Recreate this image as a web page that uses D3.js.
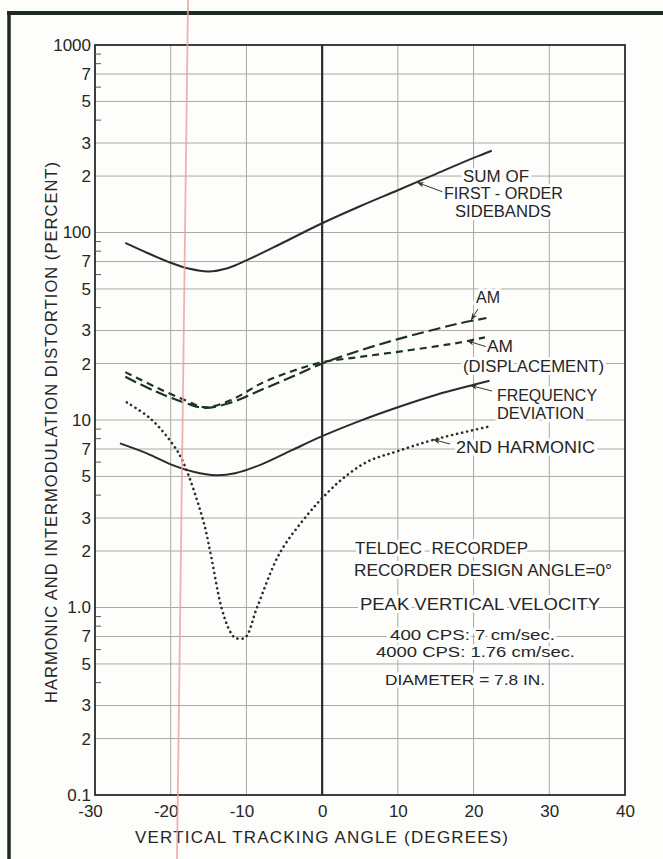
<!DOCTYPE html>
<html>
<head>
<meta charset="utf-8">
<script src="https://cdn.jsdelivr.net/npm/d3@7/dist/d3.min.js"></script>
<style>
  html, body { margin: 0; padding: 0; background: #fdfdfb; }
  svg { display: block; }
  text { font-family: "Liberation Sans", Arial, sans-serif; fill: #262626; }
</style>
</head>
<body>
<div id="chart"></div>
<script>
// tick values and labels
var xTicks = [-30, -20, -10, 0, 10, 20, 30, 40];
var yTicks = [1000, 700, 500, 300, 200, 100, 70, 50, 30, 20, 10, 7, 5, 3, 2, 1, 0.7, 0.5, 0.3, 0.2, 0.1];
var yLabels = ["1000", "7", "5", "3", "2", "100", "7", "5", "3", "2", "10", "7", "5", "3", "2", "1.0", "7", "5", "3", "2", "0.1"];
var yMinor = [900, 800, 600, 400, 90, 80, 60, 40, 9, 8, 6, 4, 0.9, 0.8, 0.6, 0.4];

// curves: [angle in degrees, percent]
var sumSidebands = [[-26, 88], [-23, 77.5], [-20, 69], [-17.5, 64], [-15, 62], [-12.5, 64.5], [-10, 71], [-5, 89],
  [0, 112], [5, 138], [10, 168], [15, 205], [20, 250], [22.4, 273]];
var amLine = [[-26, 17], [-22, 14.2], [-18, 12.3], [-15.5, 11.6], [-12, 12.4], [-8, 14.5], [-4, 17], [0, 20],
  [5, 23.5], [10, 27], [15, 30.5], [18.2, 32.8], [21.7, 35]];
var amDisplacement = [[-26, 18], [-22, 15], [-18, 12.7], [-15.5, 11.7], [-12, 12.8], [-8, 15.7], [-4, 18.2], [0, 20.3],
  [5, 21.7], [10, 23.1], [15, 24.7], [18.2, 25.9], [21.5, 27.6]];
var freqDeviation = [[-26.7, 7.5], [-23, 6.6], [-20, 5.8], [-17, 5.3], [-14, 5.08], [-11.5, 5.2], [-8, 5.8], [-4, 6.9],
  [0, 8.2], [5, 9.9], [10, 11.7], [15, 13.6], [20, 15.4], [22.1, 16.2]];
var secondHarmonic = [[-25.8, 12.4], [-22.7, 10.2], [-19.7, 7.4], [-18.3, 5.9], [-15.7, 2.9], [-14.8, 2.0], [-13.3, 1.0],
  [-12.2, 0.75], [-11.5, 0.69], [-10.2, 0.69], [-8.6, 1.0], [-5.6, 1.95], [-2, 3.1], [0.2, 3.9], [2.8, 4.9],
  [6, 6.0], [9.85, 6.8], [15, 7.9], [22.4, 9.3]];

var W = 663, H = 859;
var pl = 95, pr = 625, pt = 45, pb = 795;

var svg = d3.select("#chart").append("svg")
  .attr("width", W).attr("height", H);

svg.append("rect").attr("width", W).attr("height", H).attr("fill", "#fdfdfb");

var defs = svg.append("defs");
defs.append("marker").attr("id", "arr")
  .attr("viewBox", "0 0 10 10").attr("refX", 10).attr("refY", 5)
  .attr("markerWidth", 7).attr("markerHeight", 7).attr("orient", "auto")
  .attr("markerUnits", "userSpaceOnUse")
  .append("path").attr("d", "M0,1 L10,5 L0,9 L3,5 Z").attr("fill", "#2a3a30");

var x = d3.scaleLinear().domain([-30, 40]).range([pl, pr]);
var y = d3.scaleLog().domain([0.1, 1000]).range([pb, pt]);

// grid
var grid = svg.append("g").attr("stroke", "#a9aaa6").attr("stroke-width", 1);
grid.selectAll("line.h").data(yTicks.filter(function(d) { return d > 0.1 && d < 1000; }))
  .enter().append("line")
  .attr("x1", pl).attr("x2", pr)
  .attr("y1", function(d) { return y(d); }).attr("y2", function(d) { return y(d); });
grid.selectAll("line.v").data(xTicks.filter(function(d) { return d !== 0 && d > -30 && d < 40; }))
  .enter().append("line")
  .attr("y1", pt).attr("y2", pb)
  .attr("x1", function(d) { return x(d); }).attr("x2", function(d) { return x(d); });

// heavy zero line
svg.append("line")
  .attr("x1", x(0)).attr("x2", x(0)).attr("y1", pt).attr("y2", pb)
  .attr("stroke", "#2b2b2b").attr("stroke-width", 2.2);

// frame
svg.append("rect")
  .attr("x", pl).attr("y", pt).attr("width", pr - pl).attr("height", pb - pt)
  .attr("fill", "none").attr("stroke", "#2b2b2b").attr("stroke-width", 1.8);

// minor ticks on left axis
svg.append("g").attr("transform", "translate(" + pl + ",0)")
  .call(d3.axisRight(y).tickValues(yMinor).tickSize(6).tickFormat(""))
  .call(function(g) { g.select(".domain").remove(); })
  .selectAll("line").attr("stroke", "#555").attr("stroke-width", 1);

// y axis labels
var yAxis = svg.append("g").attr("transform", "translate(" + pl + ",0)")
  .call(d3.axisLeft(y).tickValues(yTicks).tickSize(0).tickPadding(4)
    .tickFormat(function(d, i) { return yLabels[i]; }));
yAxis.select(".domain").remove();
yAxis.selectAll("text").attr("font-size", 17).attr("fill", "#262626")
  .attr("font-family", "Liberation Sans, Arial, sans-serif");

// x axis labels
var xAxis = svg.append("g").attr("transform", "translate(0," + pb + ")")
  .call(d3.axisBottom(x).tickValues(xTicks).tickSize(0).tickPadding(10)
    .tickFormat(function(d) { return d < 0 ? "-" + Math.abs(d) : String(d); }));
xAxis.select(".domain").remove();
xAxis.selectAll("text").attr("font-size", 17)
  .attr("fill", function(d) { return d === 30 ? "#8a8f8a" : "#262626"; })
  .attr("dx", function(d) { return d < 0 ? -5 : 0; })
  .attr("font-family", "Liberation Sans, Arial, sans-serif");

// axis titles
svg.append("text")
  .attr("x", 135).attr("y", 843)
  .attr("font-size", 17).attr("textLength", 373).attr("lengthAdjust", "spacing")
  .text("VERTICAL TRACKING ANGLE (DEGREES)");
svg.append("text")
  .attr("transform", "translate(57,703) rotate(-90)")
  .attr("font-size", 16.5).attr("textLength", 541).attr("lengthAdjust", "spacing")
  .text("HARMONIC AND INTERMODULATION DISTORTION (PERCENT)");

// curves
var line = d3.line()
  .x(function(d) { return x(d[0]); })
  .y(function(d) { return y(d[1]); })
  .curve(d3.curveCatmullRom.alpha(0.5));

var curves = [
  { data: sumSidebands, stroke: "#2b2b2b", dash: null, w: 2 },
  { data: freqDeviation, stroke: "#2b2b2b", dash: null, w: 2 },
  { data: amLine, stroke: "#1d3327", dash: "12,5", w: 2.2 },
  { data: amDisplacement, stroke: "#1d3327", dash: "7,5", w: 2.2 },
  { data: secondHarmonic, stroke: "#2b2b2b", dash: "0.1,5", w: 2.6, cap: "round" }
];
svg.append("g").selectAll("path").data(curves).enter().append("path")
  .attr("d", function(c) { return line(c.data); })
  .attr("fill", "none")
  .attr("stroke", function(c) { return c.stroke; })
  .attr("stroke-width", function(c) { return c.w; })
  .attr("stroke-dasharray", function(c) { return c.dash; })
  .attr("stroke-linecap", function(c) { return c.cap || "butt"; });

// labels on the curves
function label(t, lx, ly, w, fs) {
  svg.append("text")
    .attr("x", lx).attr("y", ly)
    .attr("font-size", fs || 16)
    .attr("textLength", w).attr("lengthAdjust", "spacingAndGlyphs")
    .attr("stroke", "#fdfdfb").attr("stroke-width", 6).attr("paint-order", "stroke")
    .attr("stroke-linejoin", "round")
    .text(t);
}

// leaders: tip on curve (data units), tail in pixels
var leaders = [
  { tip: [12.54, 185], tail: [443, 192] },
  { tip: [19.67, 34.1], tail: [478, 309] },
  { tip: [19.14, 26.5], tail: [487, 347] },
  { tip: [19.54, 15.3], tail: [492, 391] },
  { tip: [14.65, 7.87], tail: [450, 444] }
];
svg.append("g").selectAll("line").data(leaders).enter().append("line")
  .attr("x1", function(d) { return d.tail[0]; }).attr("y1", function(d) { return d.tail[1]; })
  .attr("x2", function(d) { return x(d.tip[0]); }).attr("y2", function(d) { return y(d.tip[1]); })
  .attr("stroke", "#2a3a30").attr("stroke-width", 1)
  .attr("marker-end", "url(#arr)");

label("SUM OF", 463, 182, 66);
label("FIRST - ORDER", 444, 199, 119);
label("SIDEBANDS", 455, 217, 96);
label("AM", 476, 303, 24);
label("AM", 487, 352, 26);
label("(DISPLACEMENT)", 463, 372, 141);
label("FREQUENCY", 497, 401, 100);
label("DEVIATION", 497, 419, 87);
label("2ND HARMONIC", 456, 453, 139);

label("TELDEC\u00a0\u00a0RECORDEP", 355, 554, 173);
label("RECORDER DESIGN ANGLE=0°", 354, 576, 258);
label("PEAK VERTICAL VELOCITY", 360, 610, 240);
label("400 CPS: 7 cm/sec.", 390, 640, 165, 14.5);
label("4000 CPS: 1.76 cm/sec.", 376, 657, 199, 14.5);
label("DIAMETER = 7.8 IN.", 385, 685, 160, 15);

// page edges of the scanned sheet
svg.append("line").attr("x1", 7).attr("x2", W).attr("y1", 13).attr("y2", 13)
  .attr("stroke", "#1f2a24").attr("stroke-width", 4);
svg.append("line").attr("x1", 9).attr("x2", 9).attr("y1", 11).attr("y2", H)
  .attr("stroke", "#1f2a24").attr("stroke-width", 3.5);
svg.append("line").attr("x1", 188).attr("x2", 177).attr("y1", 0).attr("y2", H)
  .attr("stroke", "#eb9f9f").attr("stroke-width", 1.8).attr("opacity", 0.8);
</script>
</body>
</html>
